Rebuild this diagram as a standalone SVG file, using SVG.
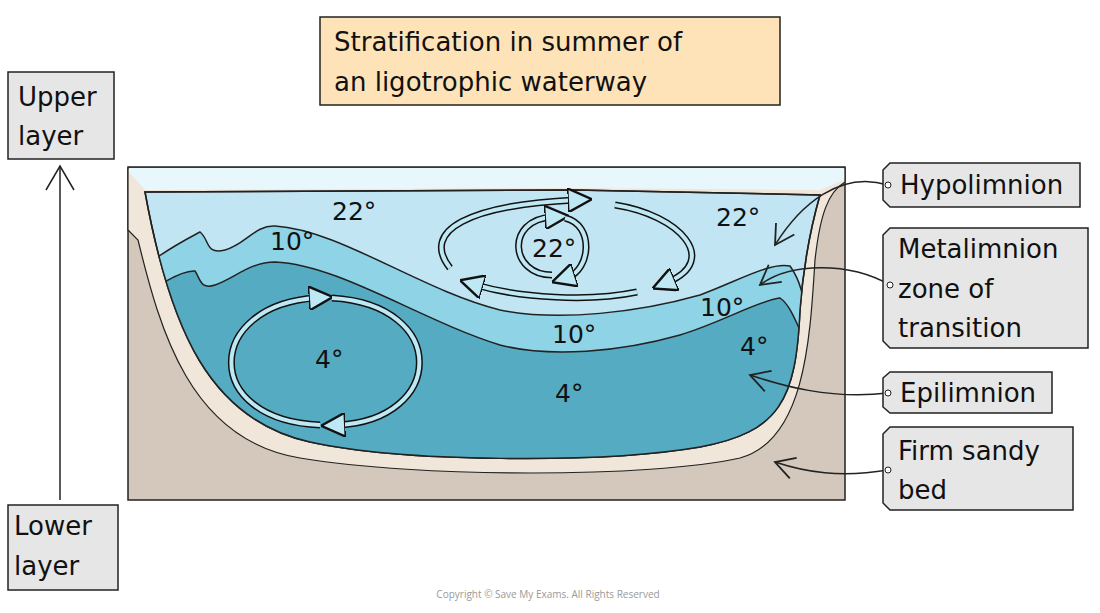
<svg xmlns="http://www.w3.org/2000/svg" width="1100" height="613" viewBox="0 0 1100 613">
<style>
.box{fill:#e6e6e6;stroke:#222;stroke-width:1.5}
.lbl{font-family:"DejaVu Sans",sans-serif;font-size:26px;fill:#111}
.deg{font-family:"DejaVu Sans",sans-serif;font-size:25px;fill:#111}
.edge{fill:none;stroke:#222;stroke-width:1.5}
.arrO{fill:none;stroke:#111;stroke-width:7}
.arrI{fill:none;stroke:#bfe8f5;stroke-width:4}
</style>
<defs>
<marker id="open" viewBox="0 0 20 20" refX="18" refY="10" markerWidth="24" markerHeight="24" markerUnits="userSpaceOnUse" orient="auto"><path d="M2,1 L18,10 L2,19" fill="none" stroke="#222" stroke-width="1.5"/></marker>
<marker id="hd" viewBox="0 0 10 10" refX="3" refY="5" markerWidth="6" markerHeight="6" orient="auto"><path d="M0,0 L10,5 L0,10Z" fill="#bfe8f5" stroke="#111" stroke-width="1"/></marker>
<clipPath id="water"><path d="M145,192 L575,190 L820,195 C810,230 803,270 800,310 C796,400 780,432 700,447 C600,464 400,462 310,442 C210,420 170,330 145,192Z"/></clipPath>
</defs>
<rect width="1100" height="613" fill="#fff"/>
<g id="title"><rect x="320" y="17" width="460" height="88" fill="#fde3b7" stroke="#222" stroke-width="1.5"/>
<text class="lbl" x="334" y="51">Stratification in summer of</text><text class="lbl" x="334" y="91">an ligotrophic waterway</text></g>
<g id="lake">
<rect x="128" y="167" width="717" height="333" fill="#d3c8bb" stroke="#222" stroke-width="1.5"/>
<path d="M128,168 L845,168 L845,182 C828,192 820,215 815,260 C810,340 805,440 740,458 C650,478 420,478 300,458 C190,440 160,330 138,240 L128,230Z" fill="#f0e6da" stroke="#222" stroke-width="1.2"/>
<path d="M129,168 L844,168 L844,180 L820,190 L575,188 L145,190 L129,172Z" fill="#e8f7fb"/>
<path d="M145,192 L575,190 L820,195 C810,230 803,270 800,310 C796,400 780,432 700,447 C600,464 400,462 310,442 C210,420 170,330 145,192Z" fill="#c2e5f3" stroke="#222" stroke-width="1.5"/>
<g clip-path="url(#water)">
<path d="M140,270 C165,250 185,240 200,232 C210,240 205,255 225,250 C245,245 255,225 275,226 C340,230 420,290 500,310 C560,322 640,312 700,295 C740,280 770,262 790,266 C800,280 805,300 805,320 L900,520 L100,520Z" fill="#8fd3e6" stroke="#222" stroke-width="1.5"/>
<path d="M140,300 C150,290 180,270 195,271 C200,278 200,290 215,285 C235,278 250,262 275,262 C340,265 420,320 500,345 C550,358 620,352 680,335 C720,323 760,300 780,298 C790,305 795,320 800,330 L900,520 L100,520Z" fill="#55abc1" stroke="#222" stroke-width="1.5"/>
</g>
<path d="M145,192 L575,190 L820,195 C810,230 803,270 800,310 C796,400 780,432 700,447 C600,464 400,462 310,442 C210,420 170,330 145,192Z" fill="none" stroke="#222" stroke-width="1.5"/>
</g>
<g id="circulation">
<path class="arrO" d="M450,268 C420,230 470,205 575,200"/><path class="arrI" d="M450,268 C420,230 470,205 575,200" marker-end="url(#hd)"/>
<path class="arrO" d="M615,205 C680,215 720,260 668,282"/><path class="arrI" d="M615,205 C680,215 720,260 668,282" marker-end="url(#hd)"/>
<path class="arrO" d="M637,292 C590,302 520,298 476,285"/><path class="arrI" d="M637,292 C590,302 520,298 476,285" marker-end="url(#hd)"/>
<path class="arrO" d="M552,275 C510,275 505,220 552,217"/><path class="arrI" d="M552,275 C510,275 505,220 552,217" marker-end="url(#hd)"/>
<path class="arrO" d="M565,218 C595,225 590,270 568,277"/><path class="arrI" d="M565,218 C595,225 590,270 568,277" marker-end="url(#hd)"/>
<path class="arrO" d="M320,425 C200,420 205,305 316,298"/><path class="arrI" d="M320,425 C200,420 205,305 316,298" marker-end="url(#hd)"/>
<path class="arrO" d="M332,298 C450,305 445,420 338,425"/><path class="arrI" d="M332,298 C450,305 445,420 338,425" marker-end="url(#hd)"/>
</g>
<g id="temps">
<text class="deg" x="332" y="220">22°</text><text class="deg" x="716" y="226">22°</text><text class="deg" x="532" y="257">22°</text>
<text class="deg" x="270" y="250">10°</text><text class="deg" x="552" y="343">10°</text><text class="deg" x="700" y="316">10°</text>
<text class="deg" x="315" y="368">4°</text><text class="deg" x="740" y="355">4°</text><text class="deg" x="555" y="402">4°</text>
</g>
<g id="connectors">
<path class="edge" d="M60,500 L60,167"/><path class="edge" d="M46,190 L60,166 L74,190"/>
<path class="edge" d="M888,185 C840,170 800,205 775,245" marker-end="url(#open)"/>
<path class="edge" d="M890,285 C850,262 790,262 760,285" marker-end="url(#open)"/>
<path class="edge" d="M888,393 C830,400 780,385 750,375" marker-end="url(#open)"/>
<path class="edge" d="M888,470 C840,478 805,472 775,462" marker-end="url(#open)"/>
</g>
<g id="upper"><rect class="box" x="8" y="72" width="106" height="87"/><text class="lbl" x="18" y="106">Upper</text><text class="lbl" x="18" y="145">layer</text></g>
<g id="lower"><rect class="box" x="8" y="505" width="110" height="85"/><text class="lbl" x="14" y="535">Lower</text><text class="lbl" x="14" y="575">layer</text></g>
<g id="hypo"><path class="box" d="M883,170 L890,163 L1080,163 L1080,207 L890,207 L883,200Z"/><circle cx="888" cy="185" r="3" fill="#fff" stroke="#222"/><text class="lbl" x="900" y="194">Hypolimnion</text></g>
<g id="meta"><path class="box" d="M883,235 L890,228 L1088,228 L1088,348 L890,348 L883,341Z"/><circle cx="890" cy="285" r="3" fill="#fff" stroke="#222"/><text class="lbl" x="898" y="258">Metalimnion</text><text class="lbl" x="898" y="298">zone of</text><text class="lbl" x="898" y="337">transition</text></g>
<g id="epi"><path class="box" d="M883,378 L890,372 L1052,372 L1052,413 L890,413 L883,407Z"/><circle cx="888" cy="393" r="3" fill="#fff" stroke="#222"/><text class="lbl" x="900" y="402">Epilimnion</text></g>
<g id="bed"><path class="box" d="M883,434 L890,427 L1073,427 L1073,510 L890,510 L883,503Z"/><circle cx="888" cy="470" r="3" fill="#fff" stroke="#222"/><text class="lbl" x="898" y="460">Firm sandy</text><text class="lbl" x="898" y="499">bed</text></g>
<text x="548" y="598" text-anchor="middle" font-family="'Open Sans',sans-serif" font-size="10" fill="#999">Copyright © Save My Exams. All Rights Reserved</text>
</svg>
